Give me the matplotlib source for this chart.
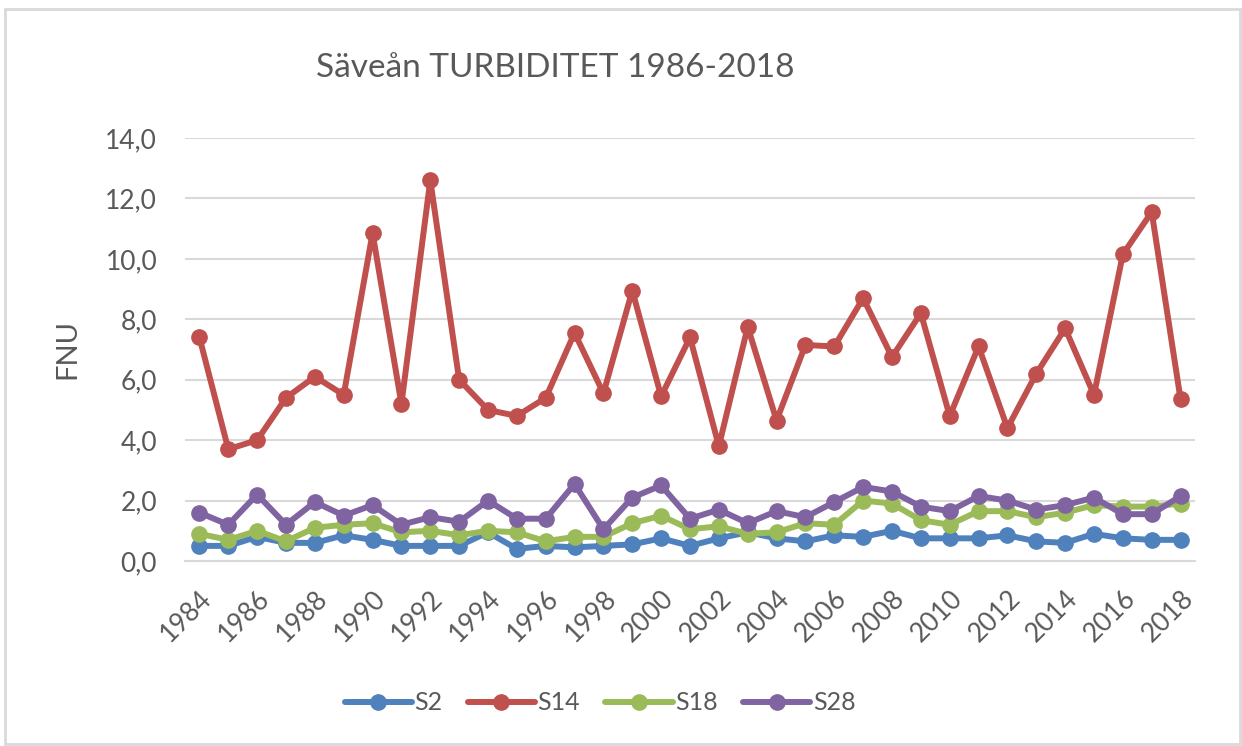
import matplotlib
matplotlib.use("Agg")
import matplotlib.pyplot as plt
from matplotlib.ticker import FuncFormatter, MultipleLocator
from matplotlib.patches import Rectangle

# Säveån turbidity, yearly values (FNU)
years = list(range(1984, 2019))
s2 = [0.5, 0.5, 0.8, 0.6, 0.6, 0.85, 0.7, 0.5, 0.5, 0.5, 0.95, 0.4, 0.5, 0.45, 0.5, 0.55,
      0.75, 0.5, 0.75, 0.95, 0.75, 0.65, 0.85, 0.8, 1.0, 0.75, 0.75, 0.75, 0.85, 0.65,
      0.6, 0.9, 0.75, 0.7, 0.7]
s14 = [7.4, 3.7, 4.0, 5.4, 6.1, 5.5, 10.85, 5.2, 12.6, 6.0, 5.0, 4.8, 5.4, 7.55, 5.55, 8.95,
       5.45, 7.4, 3.8, 7.75, 4.65, 7.15, 7.1, 8.7, 6.75, 8.2, 4.8, 7.1, 4.4, 6.2,
       7.7, 5.5, 10.15, 11.55, 5.35]
s18 = [0.9, 0.7, 1.0, 0.65, 1.1, 1.2, 1.25, 0.95, 1.0, 0.85, 1.0, 0.95, 0.65, 0.8, 0.8, 1.25,
       1.5, 1.05, 1.15, 0.9, 0.95, 1.25, 1.2, 2.0, 1.9, 1.35, 1.2, 1.65, 1.65, 1.45,
       1.6, 1.85, 1.8, 1.8, 1.9]
s28 = [1.6, 1.2, 2.2, 1.2, 1.95, 1.5, 1.85, 1.2, 1.45, 1.3, 2.0, 1.4, 1.4, 2.55, 1.05, 2.1,
       2.5, 1.4, 1.7, 1.25, 1.65, 1.45, 1.95, 2.45, 2.3, 1.8, 1.65, 2.15, 2.0, 1.7,
       1.85, 2.1, 1.55, 1.55, 2.15]

series = [("S2", s2, "#4F81BD"), ("S14", s14, "#C0504D"),
          ("S18", s18, "#9BBB59"), ("S28", s28, "#8064A2")]

TXT = "#595959"
plt.rcParams["font.family"] = ["Lato", "DejaVu Sans"]

fig = plt.figure(figsize=(12.42, 7.46), dpi=100)
fig.patches.append(Rectangle((5 / 1242, 2 / 746), 1235 / 1242, 735 / 746,
                             transform=fig.transFigure, fill=False,
                             edgecolor="#D9D9D9", linewidth=2))

ax = fig.add_axes([185 / 1242, 1 - 561 / 746, 1010 / 1242, 423 / 746])

for name, vals, col in series:
    ax.plot(years, vals, color=col, lw=4.3, marker="o", ms=11,
            solid_capstyle="round", label=name)

ax.set_xlim(1983.5, 2018.5)
ax.set_ylim(0, 14)
ax.yaxis.set_major_locator(MultipleLocator(2))
ax.yaxis.set_major_formatter(FuncFormatter(lambda v, p: f"{v:.1f}".replace(".", ",")))
ax.set_xticks(years[::2])
ax.grid(axis="y", color="#D9D9D9", lw=1.5)
ax.set_axisbelow(True)
for s in ["top", "right", "left"]:
    ax.spines[s].set_visible(False)
ax.spines["bottom"].set_color("#D9D9D9")
ax.spines["bottom"].set_linewidth(1.5)
ax.tick_params(axis="both", length=0, labelsize=19, colors=TXT)
ax.tick_params(axis="y", pad=20)
ax.tick_params(axis="x", pad=18)
for lbl in ax.get_xticklabels():
    lbl.set_rotation(45)
    lbl.set_ha("right")
    lbl.set_rotation_mode("anchor")

ax.set_ylabel("FNU", fontsize=21, color=TXT, labelpad=18)

fig.text(555 / 1242, 1 - 68 / 746, "Säveån TURBIDITET 1986-2018", fontsize=24,
         color=TXT, ha="center", va="center")

fig.legend(loc="center", bbox_to_anchor=(600 / 1242, 1 - 703 / 746), ncol=4,
           frameon=False, fontsize=18, labelcolor=TXT, handlelength=2.7,
           handletextpad=0.1, columnspacing=1.0)

fig.savefig("out.png", dpi=100)
